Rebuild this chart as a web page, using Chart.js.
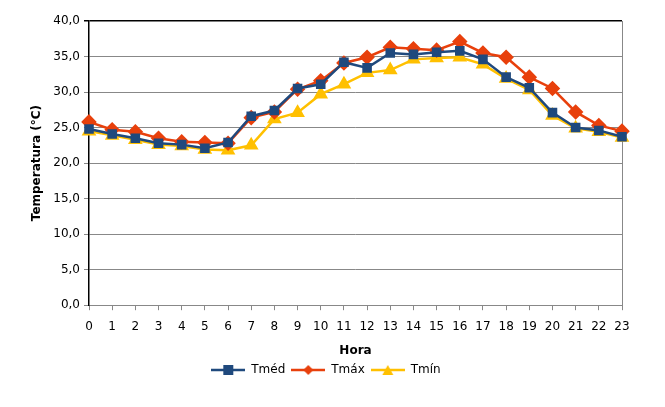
<!DOCTYPE html>
<html>
<head>
<meta charset="utf-8">
<script src="https://cdn.jsdelivr.net/npm/chart.js@4"></script>
<style>
  html, body { margin: 0; padding: 0; background: #fff; }
  #wrap { width: 665px; height: 407px; }
</style>
</head>
<body>
<div id="wrap"><canvas id="chart" width="665" height="407"></canvas></div>
<script>
// hours of the day
const horas = ['0','1','2','3','4','5','6','7','8','9','10','11','12','13','14','15','16','17','18','19','20','21','22','23'];

// temperatures (°C)
const tmed = [24.8,24.1,23.5,22.8,22.6,22.1,22.9,26.6,27.4,30.5,31.1,34.2,33.4,35.5,35.3,35.6,35.8,34.6,32.1,30.6,27.1,25.0,24.6,23.7];
const tmax = [25.8,24.7,24.4,23.5,23.0,22.9,22.8,26.4,27.2,30.4,31.6,34.1,34.9,36.3,36.1,35.9,37.1,35.5,34.9,32.1,30.5,27.2,25.3,24.5];
const tmin = [24.5,23.9,23.3,22.6,22.4,21.9,21.8,22.5,26.2,27.1,29.7,31.1,32.7,33.1,34.6,34.8,34.9,33.9,31.9,30.3,26.7,24.9,24.4,23.6];

const yTicks = [0,5,10,15,20,25,30,35,40];

const AZUL = '#1f497d', LARANJA = '#e8400c', AMARELO = '#ffc000';

// little legend icon: line with the marker in the middle
function icone(cor, tipo) {
    const c = document.createElement('canvas');
    c.width = 34; c.height = 12;
    const g = c.getContext('2d');
    g.strokeStyle = cor; g.lineWidth = 2.5;
    g.beginPath(); g.moveTo(0, 6); g.lineTo(34, 6); g.stroke();
    g.fillStyle = cor;
    g.beginPath();
    if (tipo === 'sq') {
        g.rect(12, 1, 10, 10);
    } else if (tipo === 'dm') {
        g.moveTo(17, 1); g.lineTo(22, 6); g.lineTo(17, 11); g.lineTo(12, 6); g.closePath();
    } else {
        g.moveTo(17, 1); g.lineTo(22.5, 11); g.lineTo(11.5, 11); g.closePath();
    }
    g.fill();
    return c;
}

Chart.defaults.font.family = '"DejaVu Sans", Verdana, sans-serif';
Chart.defaults.font.size = 11;
Chart.defaults.color = '#000';

const ctx = document.querySelector('#chart').getContext('2d');

new Chart(ctx, {
    type: 'line',
    data: {
        labels: horas,
        datasets: [
            {
                label: 'Tméd',
                data: tmed,
                borderColor: AZUL,
                backgroundColor: AZUL,
                borderWidth: 2.5,
                pointStyle: 'rect',
                pointRadius: 5,
                legendIcon: icone(AZUL, 'sq')
            },
            {
                label: 'Tmáx',
                data: tmax,
                borderColor: LARANJA,
                backgroundColor: LARANJA,
                borderWidth: 2.5,
                pointStyle: 'rectRot',
                pointRadius: 6,
                legendIcon: icone(LARANJA, 'dm')
            },
            {
                label: 'Tmín',
                data: tmin,
                borderColor: AMARELO,
                backgroundColor: AMARELO,
                borderWidth: 2.5,
                pointStyle: 'triangle',
                pointRadius: 6,
                legendIcon: icone(AMARELO, 'tr')
            }
        ]
    },
    options: {
        responsive: false,
        animation: false,
        layout: { padding: { top: 21, right: 43, bottom: 21, left: 30 } },
        plugins: {
            tooltip: { enabled: false },
            legend: {
                position: 'bottom',
                labels: {
                    usePointStyle: true,
                    pointStyleWidth: 34,
                    padding: 6,
                    font: { size: 12 },
                    generateLabels(chart) {
                        return chart.data.datasets.map((ds, i) => ({
                            text: ds.label,
                            pointStyle: ds.legendIcon,
                            fillStyle: ds.borderColor,
                            strokeStyle: ds.borderColor,
                            lineWidth: 0,
                            hidden: false,
                            datasetIndex: i
                        }));
                    }
                }
            }
        },
        scales: {
            x: {
                offset: false,
                title: { display: true, text: 'Hora', font: { weight: 'bold', size: 12 }, padding: { top: 1, bottom: 0 } },
                grid: { drawOnChartArea: false, tickLength: 5, color: '#888' },
                border: { color: '#888' },
                ticks: { maxRotation: 0, autoSkip: false, font: { size: 12 }, padding: 9 }
            },
            y: {
                min: 0,
                max: 40,
                afterBuildTicks(scale) { scale.ticks = yTicks.map(v => ({ value: v })); },
                afterFit(scale) { scale.width = 59; },
                title: { display: true, text: 'Temperatura (°C)', font: { weight: 'bold', size: 12 }, padding: 0 },
                grid: {
                    tickLength: 5,
                    color: c => c.tick && c.tick.value === 40 ? '#000' : '#888',
                    lineWidth: c => c.tick && c.tick.value === 40 ? 1.5 : 1
                },
                border: { color: '#000', width: 1.5 },
                ticks: { font: { size: 12 }, padding: 4, callback: v => v.toFixed(1).replace('.', ',') }
            },
            y2: {
                position: 'right',
                min: 0,
                max: 40,
                afterFit(scale) { scale.width = 0; },
                grid: { drawOnChartArea: false, drawTicks: false },
                border: { color: '#888' },
                ticks: { display: false }
            }
        }
    }
});
</script>
</body>
</html>
